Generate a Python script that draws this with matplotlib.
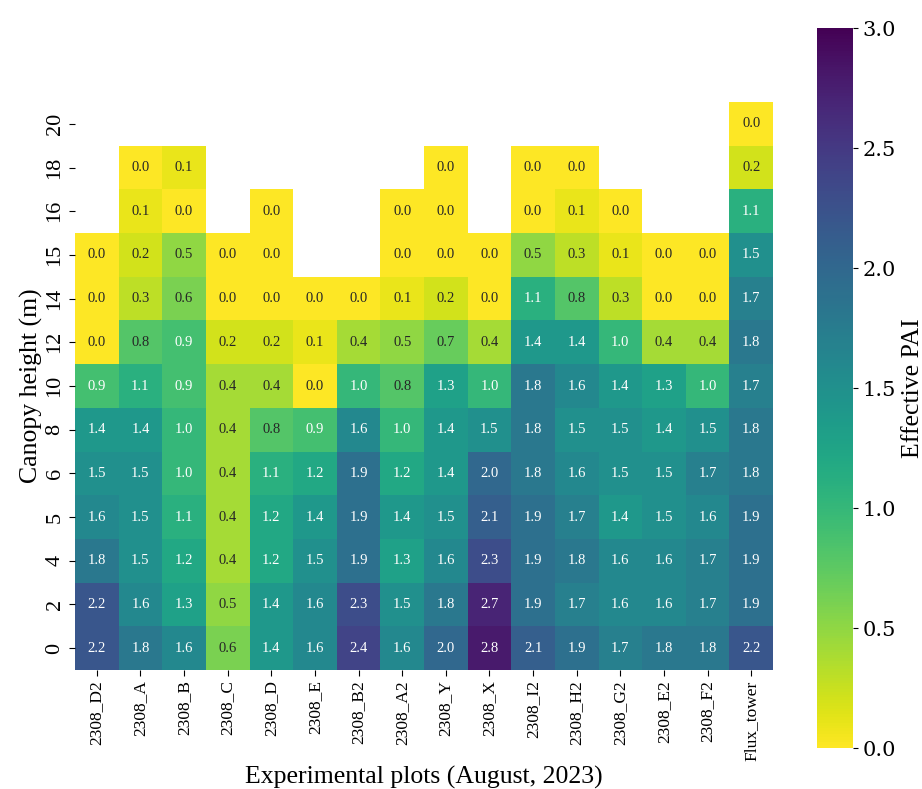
import numpy as np
import matplotlib
matplotlib.use("Agg")
import matplotlib.pyplot as plt
import matplotlib.colors as mcolors

nan = np.nan

plots = ["2308_D2", "2308_A", "2308_B", "2308_C", "2308_D", "2308_E", "2308_B2", "2308_A2",
         "2308_Y", "2308_X", "2308_I2", "2308_H2", "2308_G2", "2308_E2", "2308_F2", "Flux_tower"]
heights = ["20", "18", "16", "15", "14", "12", "10", "8", "6", "5", "4", "2", "0"]

h20 = [nan, nan, nan, nan, nan, nan, nan, nan, nan, nan, nan, nan, nan, nan, nan, 0.0]
h18 = [nan, 0.0, 0.1, nan, nan, nan, nan, nan, 0.0, nan, 0.0, 0.0, nan, nan, nan, 0.2]
h16 = [nan, 0.1, 0.0, nan, 0.0, nan, nan, 0.0, 0.0, nan, 0.0, 0.1, 0.0, nan, nan, 1.1]
h15 = [0.0, 0.2, 0.5, 0.0, 0.0, nan, nan, 0.0, 0.0, 0.0, 0.5, 0.3, 0.1, 0.0, 0.0, 1.5]
h14 = [0.0, 0.3, 0.6, 0.0, 0.0, 0.0, 0.0, 0.1, 0.2, 0.0, 1.1, 0.8, 0.3, 0.0, 0.0, 1.7]
h12 = [0.0, 0.8, 0.9, 0.2, 0.2, 0.1, 0.4, 0.5, 0.7, 0.4, 1.4, 1.4, 1.0, 0.4, 0.4, 1.8]
h10 = [0.9, 1.1, 0.9, 0.4, 0.4, 0.0, 1.0, 0.8, 1.3, 1.0, 1.8, 1.6, 1.4, 1.3, 1.0, 1.7]
h8 = [1.4, 1.4, 1.0, 0.4, 0.8, 0.9, 1.6, 1.0, 1.4, 1.5, 1.8, 1.5, 1.5, 1.4, 1.5, 1.8]
h6 = [1.5, 1.5, 1.0, 0.4, 1.1, 1.2, 1.9, 1.2, 1.4, 2.0, 1.8, 1.6, 1.5, 1.5, 1.7, 1.8]
h5 = [1.6, 1.5, 1.1, 0.4, 1.2, 1.4, 1.9, 1.4, 1.5, 2.1, 1.9, 1.7, 1.4, 1.5, 1.6, 1.9]
h4 = [1.8, 1.5, 1.2, 0.4, 1.2, 1.5, 1.9, 1.3, 1.6, 2.3, 1.9, 1.8, 1.6, 1.6, 1.7, 1.9]
h2 = [2.2, 1.6, 1.3, 0.5, 1.4, 1.6, 2.3, 1.5, 1.8, 2.7, 1.9, 1.7, 1.6, 1.6, 1.7, 1.9]
h0 = [2.2, 1.8, 1.6, 0.6, 1.4, 1.6, 2.4, 1.6, 2.0, 2.8, 2.1, 1.9, 1.7, 1.8, 1.8, 2.2]

pai = np.array([h20, h18, h16, h15, h14, h12, h10, h8, h6, h5, h4, h2, h0])
masked = np.ma.masked_invalid(pai)

serif = ["Liberation Serif", "DejaVu Serif"]
plt.rcParams["font.family"] = serif

cmap = plt.get_cmap("viridis_r")
norm = mcolors.Normalize(vmin=0, vmax=3)

fig = plt.figure(figsize=(9.22, 7.89), dpi=100)
ax = fig.add_axes([75 / 922, 119 / 789, 698 / 922, 568 / 789])
cax = fig.add_axes([817 / 922, 41 / 789, 36 / 922, 720 / 789])

mesh = ax.pcolormesh(masked, cmap=cmap, norm=norm)
ax.set_xlim(0, len(plots))
ax.set_ylim(len(heights), 0)

# cell annotations, dark or light text depending on the cell colour
for i in range(pai.shape[0]):
    for j in range(pai.shape[1]):
        v = pai[i, j]
        if np.isnan(v):
            continue
        rgb = np.array(cmap(norm(v))[:3])
        rgb = np.where(rgb <= 0.03928, rgb / 12.92, ((rgb + 0.055) / 1.055) ** 2.4)
        lum = 0.2126 * rgb[0] + 0.7152 * rgb[1] + 0.0722 * rgb[2]
        col = ".15" if lum > 0.408 else "w"
        ax.text(j + 0.5, i + 0.5, f"{v:.1f}", ha="center", va="center", fontsize=10.5, color=col)

ax.set_xticks(np.arange(len(plots)) + 0.5)
ax.set_xticklabels(plots, rotation=90, fontsize=12.5)
ax.set_yticks(np.arange(len(heights)) + 0.5)
ax.set_yticklabels(heights, rotation=90, va="center", fontsize=16)
for s in ax.spines.values():
    s.set_visible(False)
ax.tick_params(length=4, width=0.8)

ax.set_xlabel("Experimental plots (August, 2023)", fontsize=18.5)
ax.set_ylabel("Canopy height (m)", fontsize=18.5, labelpad=2)

cb = fig.colorbar(mesh, cax=cax)
cb.outline.set_visible(False)
cb.set_ticks([0.0, 0.5, 1.0, 1.5, 2.0, 2.5, 3.0])
for t in cb.ax.get_yticklabels():
    t.set_fontfamily("DejaVu Serif")
    t.set_fontsize(15)
cb.set_label("Effective PAI", fontsize=18.5)

fig.savefig("out.png", dpi=100)
